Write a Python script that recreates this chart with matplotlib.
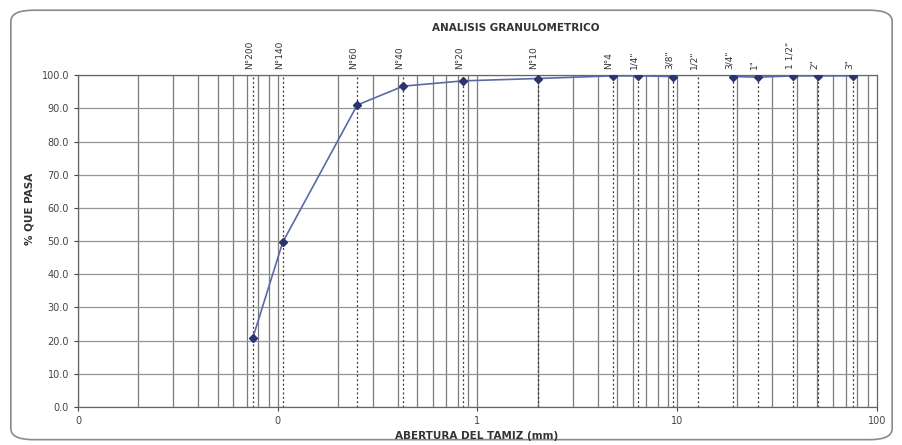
import numpy as np
import matplotlib.pyplot as plt
from matplotlib.patches import FancyBboxPatch

# sieve openings (mm) and percent passing
sieves = ['N°200', 'N°140', 'N°60', 'N°40', 'N°20', 'N°10', 'N°4', '1/4"', '3/8"',
          '1/2"', '3/4"', '1"', '1 1/2"', '2"', '3"']
opening = [0.075, 0.106, 0.25, 0.425, 0.85, 2.0, 4.75, 6.35, 9.525,
           12.7, 19.05, 25.4, 38.1, 50.8, 76.2]
passing = [20.8, 49.7, 91.0, 96.7, 98.3, 99.0, 99.8, 99.8, 99.6,
           np.nan, 99.6, 99.4, 99.8, 99.8, 99.8]

xticks = [0.01, 0.1, 1, 10, 100]
xticklabels = ['0', '0', '1', '10', '100']
yticks = np.arange(0, 101, 10)

fig = plt.figure(figsize=(9.03, 4.45), dpi=100)
ax = fig.add_axes([0.0864, 0.0854, 0.8846, 0.7456])

# rounded chart border
border = FancyBboxPatch((0.012, 0.012), 0.976, 0.965, boxstyle='round,pad=0,rounding_size=0.025',
                        transform=fig.transFigure, fill=False, edgecolor='#8a8a8a', linewidth=1.2)
fig.patches.append(border)

ax.set_xscale('log')
ax.set_xlim(0.01, 100)
ax.set_ylim(0, 100)

# grid: every log minor line plus horizontal 10s
for dec in [0.01, 0.1, 1, 10]:
    for k in range(1, 10):
        ax.axvline(dec * k, color='#7a7a7a', linewidth=0.9, zorder=1)
for y in yticks:
    ax.axhline(y, color='#959595', linewidth=0.9, zorder=1)

# dotted sieve lines and labels
for s, d in zip(sieves, opening):
    ax.axvline(d, color='#333333', linewidth=0.9, linestyle=(0, (1.5, 2)), zorder=2)
    ax.text(d * 0.96, 102, s, rotation=90, ha='center', va='bottom', fontsize=6.5,
            color='#333333')

ax.plot(opening, passing, color='#5a6aa8', linewidth=1.2, marker='D', markersize=4,
        markerfacecolor='#2a3470', markeredgecolor='#2a3470', zorder=3)

ax.set_xticks(xticks)
ax.set_xticklabels(xticklabels)
ax.xaxis.set_minor_locator(plt.NullLocator())
ax.set_yticks(yticks)
ax.set_yticklabels(['%.1f' % v for v in yticks])
ax.tick_params(labelsize=7, colors='#444444', length=3, width=0.8)
for sp in ax.spines.values():
    sp.set_color('#666666')
    sp.set_linewidth(0.9)

fig.text(0.571, 0.937, 'ANALISIS GRANULOMETRICO', ha='center', va='center', fontsize=7.5,
         fontweight='bold', color='#333333')
fig.text(0.528, 0.02, 'ABERTURA DEL TAMIZ (mm)', ha='center', va='center', fontsize=7.5,
         fontweight='bold', color='#333333')
fig.text(0.033, 0.53, '% QUE PASA', ha='center', va='center', rotation=90, fontsize=7.5,
         fontweight='bold', color='#333333')

fig.savefig('out.png', dpi=100)
